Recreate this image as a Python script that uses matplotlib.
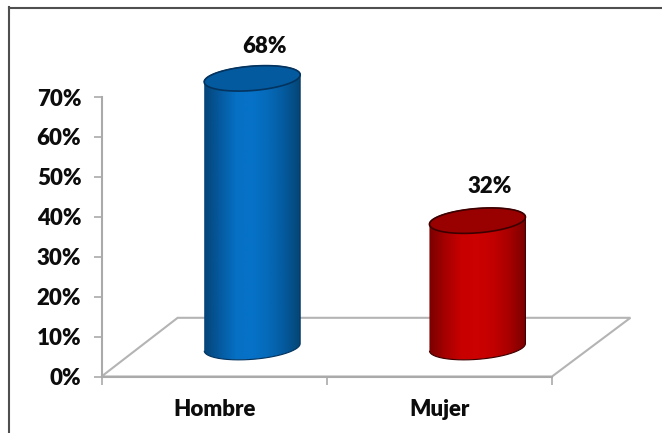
import numpy as np
import matplotlib
matplotlib.use('Agg')
import matplotlib.pyplot as plt
from matplotlib.colors import LinearSegmentedColormap
from matplotlib.lines import Line2D
from matplotlib.patches import PathPatch, Polygon
from matplotlib.path import Path

categories = ['Hombre', 'Mujer']
values = [68, 32]
y_ticks = [0, 10, 20, 30, 40, 50, 60, 70]

W, H = 662, 433
plt.rcParams['font.family'] = ['Lato', 'DejaVu Sans']
label_weight = 800
label_size = 16
ink = '#0c0c0c'

fig = plt.figure(figsize=(W / 100, H / 100), dpi=100, facecolor='white')
# plot area in pixels, y counted from the top
left, right, top, bottom = 101.5, 552.0, 97.0, 376.5
ax = fig.add_axes([left / W, 1 - bottom / H, (right - left) / W, (bottom - top) / H])
ax.set_xlim(0, 2)
ax.set_ylim(0, 70)
ax.patch.set_alpha(0)

px_x = 2 / (right - left)
px_y = 70 / (bottom - top)

# outer frame, open on the right and at the bottom
for xs, ys in [([8.5, 8.5], [7, H]), ([8.5, W], [7.5, 7.5])]:
    fig.add_artist(Line2D(np.array(xs) / W, 1 - np.array(ys) / H,
                          color='#4f4f4f', lw=1.5, transform=fig.transFigure))

# floor of the 3D plot
depth_x, depth_y = 0.338, 14.7
floor = Polygon([(0, 0), (depth_x, depth_y), (2 + depth_x * 1.03, depth_y), (2, 0)],
                closed=True, fill=False, ec='#b4b4b4', lw=1.5, clip_on=False, zorder=1)
ax.add_patch(floor)

bar_half = 48.0 * px_x
ell_b = 12.2 * px_y
ell_s = 3.6 * px_y
t = np.linspace(0, np.pi, 80)


def ring(cx, cy, angles):
    return (cx + bar_half * np.cos(angles),
            cy + ell_b * np.sin(angles) + ell_s * np.cos(angles))


def cylinder(cx, value, colors, top_color, edge_color):
    base = depth_y / 2
    height = value * 0.99
    # body outline: lower half of the base, then the far half of the top rim
    bx, by = ring(cx, base, np.pi + t)
    tx, ty = ring(cx, base + height, t)
    body = Path(np.column_stack([np.r_[bx, tx], np.r_[by, ty]]))
    cmap = LinearSegmentedColormap.from_list('shade', colors)
    grad = np.linspace(0, 1, 256).reshape(1, -1)
    img = ax.imshow(grad, cmap=cmap, aspect='auto', zorder=3,
                    extent=[cx - bar_half, cx + bar_half, base - 5, base + height + 5])
    patch = PathPatch(body, fc='none', ec=edge_color, lw=0.8, clip_on=False, zorder=4)
    ax.add_patch(patch)
    img.set_clip_box(fig.bbox)
    img.set_clip_path(patch)
    ex, ey = ring(cx, base + height, np.linspace(0, 2 * np.pi, 160))
    ax.add_patch(Polygon(np.column_stack([ex, ey]), closed=True, fc=top_color,
                         ec=edge_color, lw=1.2, clip_on=False, zorder=5))


styles = [
    (['#054478', '#055a9e', '#0670c4', '#0672c8', '#056ab9', '#055a9e', '#044676'], '#045a9f', '#03335e'),
    (['#7a0000', '#a60000', '#c80000', '#cc0000', '#c20000', '#a60000', '#7a0000'], '#990000', '#3c0000'),
]
for i, (val, st) in enumerate(zip(values, styles)):
    cx = i + 0.5 + depth_x / 2
    cylinder(cx, val, st[0], st[1], st[2])
    ax.text(i + 0.5 + 0.224, val * 0.97 + 16.6, f'{val}%', ha='center', va='center',
            fontsize=label_size, fontweight=label_weight, color=ink, zorder=6)

ax.set_xlim(0, 2)
ax.set_ylim(0, 70)

for side in ['top', 'right']:
    ax.spines[side].set_visible(False)
for side in ['left', 'bottom']:
    ax.spines[side].set_color('#aaaaaa')
    ax.spines[side].set_linewidth(1.5)
    ax.spines[side].set_zorder(2)

ax.set_yticks(y_ticks)
ax.set_yticklabels([f'{v}%' for v in y_ticks], fontweight=label_weight)
ax.set_xticks([0, 1, 2])
ax.set_xticklabels([])
ax.set_xticks([0.5, 1.5], minor=True)
ax.set_xticklabels(categories, minor=True, fontweight=label_weight)
ax.tick_params(axis='x', which='major', length=6, width=1.2, color='#aaaaaa')
ax.tick_params(axis='x', which='minor', length=0, pad=16, labelsize=label_size, labelcolor=ink)
ax.tick_params(axis='y', length=5.5, width=1.2, color='#aaaaaa', pad=9,
               labelsize=label_size, labelcolor=ink)

fig.savefig('out.png', dpi=100)
